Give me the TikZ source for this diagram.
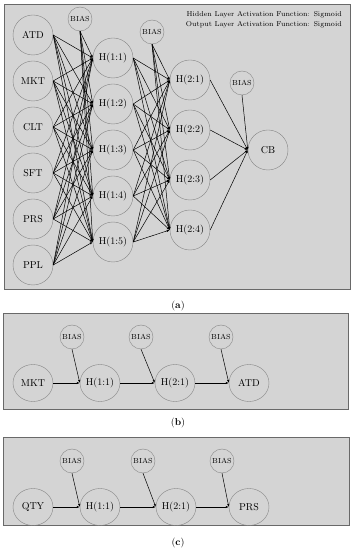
\documentclass[tikz,border=0pt]{standalone}
\usetikzlibrary{arrows.meta,shapes.geometric}
\begin{document}
\begin{tikzpicture}[x=1pt,y=1pt,line width=0.4pt]
\definecolor{figpanel}{RGB}{212,212,212}
\definecolor{figframe}{RGB}{105,105,105}
\definecolor{figring}{RGB}{135,135,135}
\providecommand{\fnode}{\fontsize{10}{12}\selectfont}
\providecommand{\fbias}{\fontsize{7.3}{8}\selectfont}
\providecommand{\fnote}{\fontsize{7.1}{9}\selectfont}
\tikzset{neuron/.style={circle,draw=figring,minimum size=40pt,inner sep=0pt,font=\fnode},
  biasunit/.style={circle,draw=figring,minimum size=24pt,inner sep=0pt,font=\fbias},
  unit/.style={ellipse,draw=figring,minimum width=40pt,minimum height=37pt,inner sep=0pt,font=\fnode},
  link/.style={-{Latex[length=3pt,width=2.2pt]},line width=0.5pt},
  panel/.style={draw=figframe,fill=figpanel,line width=0.8pt}}
\useasboundingbox (0,0) rectangle (356,550);
% (a)
\draw[panel] (4,261) rectangle (350,546);
\node[neuron] (in1) at (33,515) {ATD};
\node[neuron] (in2) at (33,469) {MKT};
\node[neuron] (in3) at (33,423) {CLT};
\node[neuron] (in4) at (33,377) {SFT};
\node[neuron] (in5) at (33,331) {PRS};
\node[neuron] (in6) at (33,285) {PPL};
\node[biasunit] (biasa) at (80,531) {BIAS};
\node[neuron] (ha1) at (113,492) {H(1:1)};
\node[neuron] (ha2) at (113,446) {H(1:2)};
\node[neuron] (ha3) at (113,400) {H(1:3)};
\node[neuron] (ha4) at (113,354) {H(1:4)};
\node[neuron] (ha5) at (113,308) {H(1:5)};
\node[biasunit] (biasb) at (152,518) {BIAS};
\node[neuron] (hb1) at (190,470) {H(2:1)};
\node[neuron] (hb2) at (190,420) {H(2:2)};
\node[neuron] (hb3) at (190,370) {H(2:3)};
\node[neuron] (hb4) at (190,320) {H(2:4)};
\node[biasunit] (biasc) at (242,467) {BIAS};
\node[neuron] (cb) at (268,400) {CB};
\foreach \j in {1,...,5} {
  \foreach \i in {1,...,6} \draw[link] (in\i.east) -- (ha\j.west);
  \draw[link] (biasa.south) -- (ha\j.west);
}
\foreach \j in {1,...,4} {
  \foreach \i in {1,...,5} \draw[link] (ha\i.east) -- (hb\j.west);
  \draw[link] (biasb.south) -- (hb\j.west);
  \draw[link] (hb\j.east) -- (cb.west);
}
\draw[link] (biasc.south) -- (cb.west);
\node[anchor=east,inner sep=0pt,font=\fnote] (actfunh) at (342,535) {Hidden Layer Activation Function: Sigmoid};
\node[anchor=east,inner sep=0pt,font=\fnote] (actfuno) at (342,525) {Output Layer Activation Function: Sigmoid};
\node[font=\fnode] (capa) at (178,244) {(\textbf{a})};
% (b)
\draw[panel] (3,141) rectangle (348,237);
\node[unit] (bmkt) at (33,167) {MKT};
\node[unit] (bh1) at (100,167) {H(1:1)};
\node[unit] (bh2) at (175,167) {H(2:1)};
\node[unit] (batd) at (249,167) {ATD};
\node[biasunit] (bbias1) at (72,213) {BIAS};
\node[biasunit] (bbias2) at (141,213) {BIAS};
\node[biasunit] (bbias3) at (221,213) {BIAS};
\draw[link] (bmkt.east) -- (bh1.west);
\draw[link] (bh1.east) -- (bh2.west);
\draw[link] (bh2.east) -- (batd.west);
\draw[link] (bbias1.south) -- (bh1.west);
\draw[link] (bbias2.south) -- (bh2.west);
\draw[link] (bbias3.south) -- (batd.west);
\node[font=\fnode] (capb) at (178,127) {(\textbf{b})};
% (c)
\draw[panel] (3,25) rectangle (349,113);
\node[unit] (cqty) at (33,43) {QTY};
\node[unit] (ch1) at (100,43) {H(1:1)};
\node[unit] (ch2) at (176,43) {H(2:1)};
\node[unit] (cprs) at (249,43) {PRS};
\node[biasunit] (cbias1) at (72,89) {BIAS};
\node[biasunit] (cbias2) at (143,89) {BIAS};
\node[biasunit] (cbias3) at (222,89) {BIAS};
\draw[link] (cqty.east) -- (ch1.west);
\draw[link] (ch1.east) -- (ch2.west);
\draw[link] (ch2.east) -- (cprs.west);
\draw[link] (cbias1.south) -- (ch1.west);
\draw[link] (cbias2.south) -- (ch2.west);
\draw[link] (cbias3.south) -- (cprs.west);
\node[font=\fnode] (capc) at (178,7) {(\textbf{c})};
\end{tikzpicture}
\end{document}
